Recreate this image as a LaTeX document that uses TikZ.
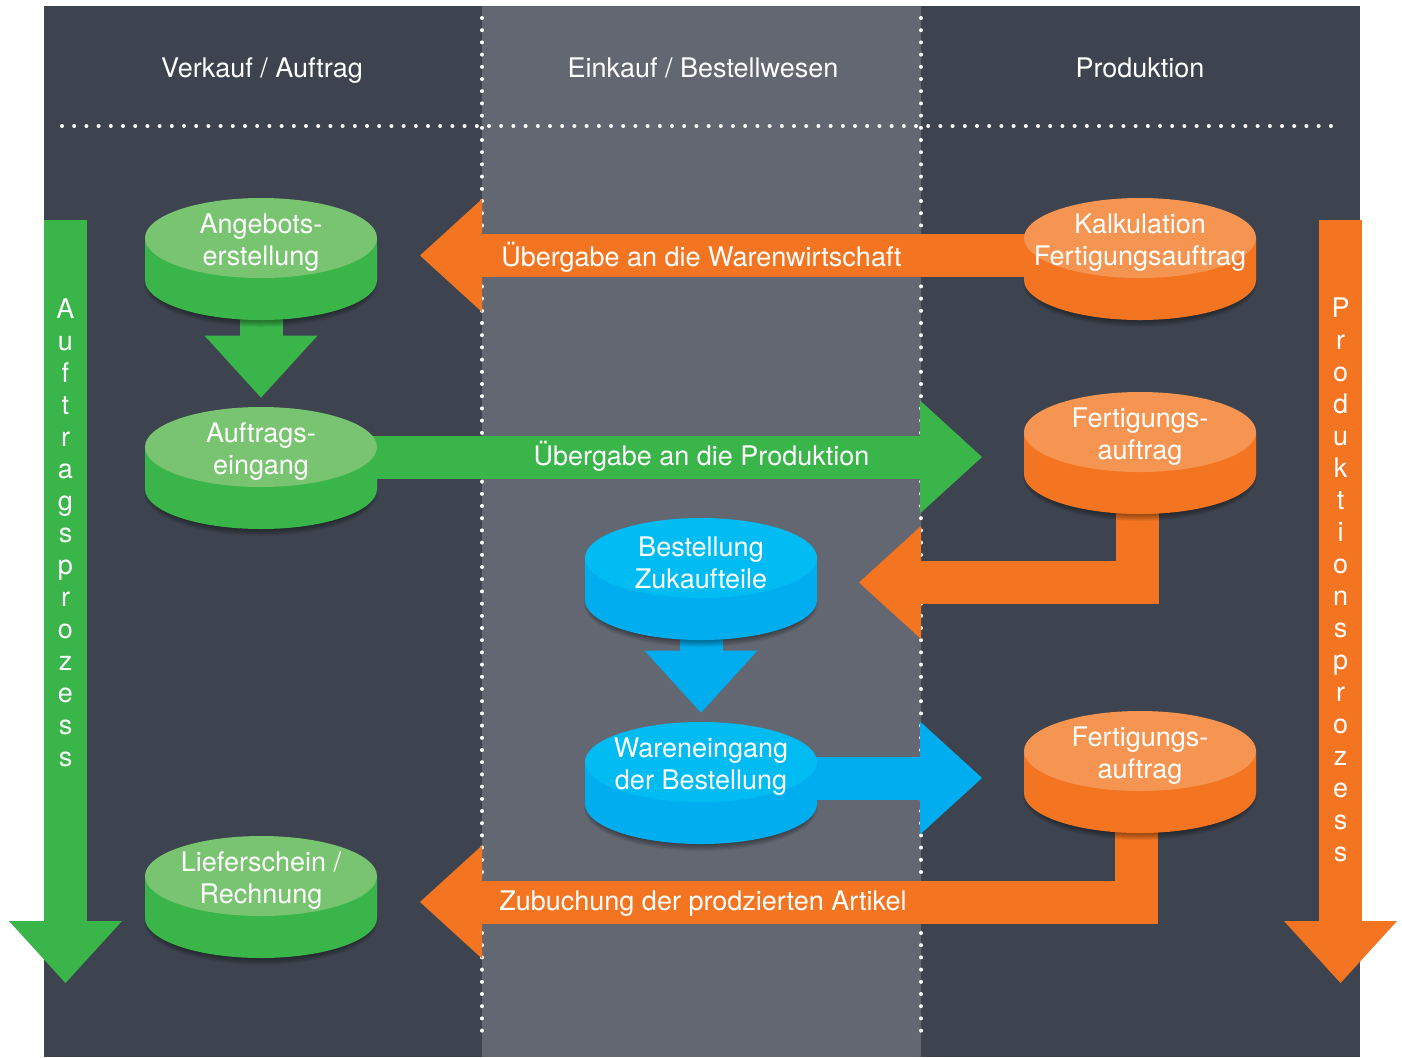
\documentclass[tikz,border=0pt]{standalone}
\usepackage{fontspec}
\setmainfont{TeX Gyre Heros}
\usetikzlibrary{arrows.meta,shapes.geometric,calc}

\definecolor{panel}{HTML}{3E444F}
\definecolor{lane}{HTML}{636771}
\definecolor{gside}{HTML}{3AB54A}
\definecolor{gtop}{HTML}{78C470}
\definecolor{oside}{HTML}{F47521}
\definecolor{otop}{HTML}{F59551}
\definecolor{bside}{HTML}{00AEEF}
\definecolor{btop}{HTML}{00BCF2}

\pgfdeclarelayer{back}
\pgfdeclarelayer{flow}
\pgfsetlayers{back,flow,main}

\tikzset{
        txt/.style={text=white, font=\fontsize{13.5}{16}\selectfont, align=center, inner sep=0pt},
        disctop/.style={ellipse, minimum width=116pt, minimum height=40pt, inner sep=0pt},
        flow/.style={line width=21.5pt, line join=miter, -{Triangle[width=56.5pt,length=31pt,line width=0pt]}},
        dots/.style={white, line width=2pt, line cap=round, dash pattern=on 0pt off 6.1pt}
}

% disc: name, x, y, colour (g/o/b), text
\newcommand{\disc}[5]{
        \foreach \k in {1,...,8}
                \fill[black,opacity=0.06] (#2,#3+46) ellipse [x radius=109+\k, y radius=35+\k];
        \fill[#4side] (#2-116,#3) -- (#2-116,#3+42) arc [start angle=180, end angle=0, x radius=116, y radius=40] -- (#2+116,#3) -- cycle;
        \node[disctop, fill=#4top] (#1) at (#2,#3) {};
        \node[txt] (#1-t) at (#2,#3+5) {#5};
}

\begin{document}
\begin{tikzpicture}[x=0.5pt, y=-0.5pt]
        \useasboundingbox (0,0) rectangle (1402,1057);

        \begin{pgfonlayer}{back}
        \fill[white] (0,0) rectangle (1402,1057);
        \fill[panel] (44,6) rectangle (1360,1057);
        \fill[lane] (482,6) rectangle (921,1057);
        \draw[dots] (62,126) -- (1340,126);
        \draw[dots] (482,18) -- (482,1042);
        \draw[dots] (921,18) -- (921,1042);
        \end{pgfonlayer}

        \node[txt,anchor=base] (hverkauf) at (262,77) {Verkauf / Auftrag};
        \node[txt,anchor=base] (heinkauf) at (703,77) {Einkauf / Bestellwesen};
        \node[txt,anchor=base] (hprod) at (1140,77) {Produktion};

        \disc{angebot}{261}{238}{g}{Angebots-\\erstellung}
        \disc{auftrag}{261}{447}{g}{Auftrags-\\eingang}
        \disc{liefer}{261}{876}{g}{Lieferschein /\\Rechnung}
        \disc{bestell}{701}{558}{b}{Bestellung\\Zukaufteile}
        \disc{waren}{701}{762}{b}{Wareneingang\\der Bestellung}
        \disc{kalk}{1140}{238}{o}{Kalkulation\\Fertigungsauftrag}
        \disc{fert1}{1140}{432}{o}{Fertigungs-\\auftrag}
        \disc{fert2}{1140}{751}{o}{Fertigungs-\\auftrag}

        \coordinate (gstart) at (65.5,220);
        \coordinate (gend) at (65.5,983);
        \coordinate (ostart) at (1340.5,220);
        \coordinate (oend) at (1340.5,983);
        \coordinate (tipW) at (420,255.5);
        \coordinate (tipP) at (982,457);
        \coordinate (tipB) at (859,582.5);
        \coordinate (tipF) at (982,778);
        \coordinate (tipL) at (420,902);

        \begin{pgfonlayer}{flow}
        \draw[flow,gside] (gstart) -- (gend);
        \draw[flow,oside] (ostart) -- (oend);

        \draw[flow,gside] (angebot) -- ($(auftrag.north)+(0,-9)$);
        \draw[flow,gside] (auftrag |- tipP) -- (tipP);
        \draw[flow,oside] (kalk |- tipW) -- (tipW);
        \draw[flow,oside] ($(fert1)+(-3,0)$) |- (tipB);
        \draw[flow,bside] (bestell) -- ($(waren.north)+(0,-9)$);
        \draw[flow,bside] (waren |- tipF) -- (tipF);
        \draw[flow,oside] ($(fert2)+(-4,0)$) |- (tipL);
        \end{pgfonlayer}

        \node[txt,anchor=base] (lwaren) at (701.5,266) {Übergabe an die Warenwirtschaft};
        \node[txt,anchor=base] (lprod) at (701.5,465) {Übergabe an die Produktion};
        \node[txt,anchor=base] (lzubuch) at (703,910) {Zubuchung der prodzierten Artikel};

        \node[txt] (vauftrag) at (65.5,532.5) {A\\u\\f\\t\\r\\a\\g\\s\\p\\r\\o\\z\\e\\s\\s};
        \node[txt] (vprod) at (1340.5,580) {P\\r\\o\\d\\u\\k\\t\\i\\o\\n\\s\\p\\r\\o\\z\\e\\s\\s};

\end{tikzpicture}
\end{document}
